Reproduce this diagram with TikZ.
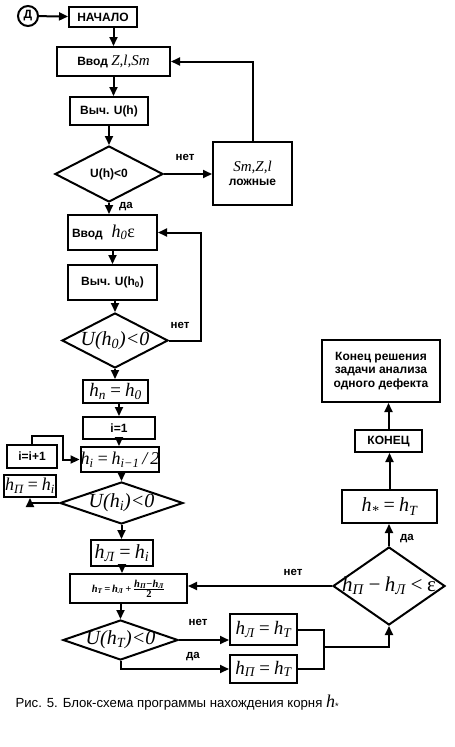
\documentclass[tikz,border=0pt]{standalone}
\usepackage{fontspec}
\setmainfont{Liberation Sans}
\newfontfamily\tms{Liberation Serif}
\usetikzlibrary{shapes.geometric,arrows.meta}
\newcommand\mx[2]{{\fontsize{#1}{#1}\tms\mdseries\itshape #2}}
\tikzset{
  blk/.style={draw,line width=2pt,inner sep=0pt,align=center,
    font=\fontsize{12}{13.5}\selectfont\bfseries},
  dia/.style={draw,diamond,line width=2pt,inner sep=0pt},
  arr/.style={line width=2pt,-{Triangle[length=9pt,width=8pt]}},
  lbl/.style={font=\fontsize{11.5}{12}\selectfont\bfseries},
}
\begin{document}
\begin{tikzpicture}[x=1pt,y=-1pt]
\path[fill=white](0,0)rectangle(455,747);
\useasboundingbox(0,0)rectangle(455,747);
\node[blk,circle,minimum size=20pt] (d) at (28,16) {Д};
\node[blk,minimum width=68pt,minimum height=20pt] (nach) at (103,17) {НАЧАЛО};
\node[blk,minimum width=113pt,minimum height=29pt] (vvodz) at (113.5,61.5)
  {Ввод \mx{15}{Z,l,Sm}};
\node[blk,minimum width=78pt,minimum height=28pt] (calc1) at (109,111) {Выч. U(h)};
\node[dia,minimum width=108pt,minimum height=56pt,
  label={[font=\fontsize{12}{13}\selectfont\bfseries]center:U(h)<0}] (dec1) at (109,174) {};
\node[blk,minimum width=79pt,minimum height=63pt] (false) at (252.5,173.5)
  {\mx{15}{Sm,Z,l}\\ложные};
\node[blk,minimum width=89pt,minimum height=35pt] (vvod0) at (112.5,232.5)
  {\makebox[81pt][l]{Ввод\hspace{9pt}\mx{18}{h\textsubscript{0}\upshape ε}}};
\node[blk,minimum width=89pt,minimum height=35pt] (calc2) at (112.5,282.5)
  {Выч. U(h\textsubscript{0})};
\node[dia,minimum width=106pt,minimum height=55pt,
  label={center:\mx{20}{U(h\textsubscript{0})<0}}] (dec2) at (115,340.5) {};
\node[blk,minimum width=65pt,minimum height=23pt] (hn) at (115.5,391.5)
  {\mx{19}{h\textsubscript{п}\,=\,h\textsubscript{0}}};
\node[blk,minimum width=72pt,minimum height=22pt] (i1) at (119,428) {i=1};
\node[blk,minimum width=74pt,minimum height=25pt] (half) at (120,459.5)
  {\mx{18}{h\textsubscript{i}\,=\,h\textsubscript{i−1}\,/\,2}};
\node[blk,minimum width=50pt,minimum height=23pt] (inc) at (32,456.5) {i=i+1};
\node[blk,minimum width=52pt,minimum height=22pt] (hPi) at (30,486)
  {\mx{18}{h\textsubscript{П}\,=\,h\textsubscript{i}}};
\node[dia,minimum width=123pt,minimum height=42pt,
  label={center:\mx{20}{U(h\textsubscript{i})<0}}] (dec3) at (121.5,503) {};
\node[blk,minimum width=62pt,minimum height=26pt] (hLi) at (122,553)
  {\mx{20}{h\textsubscript{Л}\,=\,h\textsubscript{i}}};
\node[blk,minimum width=117pt,minimum height=29pt] (hT) at (128.5,588.5)
  {\mx{10.5}{\bfseries h\textsubscript{T}\,=\,h\textsubscript{Л}\,+\,%
  $\frac{\mbox{h\textsubscript{П}−h\textsubscript{Л}}}{\mbox{\upshape 2}}$}};
\node[dia,minimum width=115pt,minimum height=40pt,
  label={center:\mx{20}{U(h\textsubscript{T})<0}}] (dec4) at (120.5,640) {};
\node[blk,minimum width=67pt,minimum height=31pt] (hLT) at (263.5,629.5)
  {\mx{19}{h\textsubscript{Л}\,=\,h\textsubscript{T}}};
\node[blk,minimum width=67pt,minimum height=28pt] (hPT) at (263.5,669)
  {\mx{19}{h\textsubscript{П}\,=\,h\textsubscript{T}}};
\node[dia,minimum width=112pt,minimum height=78pt,
  label={center:\mx{21}{h\textsubscript{П}\,−\,h\textsubscript{Л}\,<\,\upshape ε}}] (dec5) at (389,586) {};
\node[blk,minimum width=95pt,minimum height=33pt] (hstar) at (389.5,506.5)
  {\mx{20}{h\textsubscript{*}\,=\,h\textsubscript{T}}};
\node[blk,minimum width=67pt,minimum height=22pt] (end) at (388.5,441) {КОНЕЦ};
\node[blk,minimum width=118pt,minimum height=62pt] (final) at (381,371)
  {Конец решения\\задачи анализа\\одного дефекта};
\coordinate (incturn) at (63,436);
\coordinate (join) at (324,647);
\node[lbl] (n1) at (185,157) {нет};
\node[lbl] (y1) at (126,207) {да};
\node[lbl] (n2) at (180,325) {нет};
\node[lbl] (n3) at (293,572) {нет};
\node[lbl] (n4) at (198,622) {нет};
\node[lbl] (y4) at (193,657) {да};
\node[lbl] (y5) at (407,539) {да};
\node[anchor=base west,font=\fontsize{13.2}{14}\selectfont] (cap) at (12,707)
  {Рис. 5. Блок-схема программы нахождения корня \mx{18}{h}\textsubscript{*}};
\path[draw,arr](d)--(nach);
\path[draw,arr](vvodz.north|-nach.south)--(vvodz.north);
\path[draw,arr](vvodz.south)--(vvodz.south|-calc1.north);
\path[draw,arr](calc1)--(dec1);
\path[draw,arr](dec1.east)--(dec1.east-|false.west);
\path[draw,arr](false.north)|-(vvodz.east);
\path[draw,arr](dec1.south)--(dec1.south|-vvod0.north);
\path[draw,arr](vvod0)--(calc2);
\path[draw,arr](dec2.north|-calc2.south)--(dec2.north);
\path[draw,arr](dec2.east)--++(32,0)|-(vvod0.east);
\path[draw,arr](dec2.south)--(dec2.south|-hn.north);
\path[draw,arr](i1.north|-hn.south)--(i1.north);
\path[draw,arr](i1.south)--(i1.south|-half.north);
\path[draw,arr](dec3.north|-half.south)--(dec3.north);
\path[draw,arr](dec3.south)--(dec3.south|-hLi.north);
\path[draw,arr](hLi.south)--(hLi.south|-hT.north);
\path[draw,arr](dec4.north|-hT.south)--(dec4.north);
\path[draw,arr](dec3.west)-|(hPi.south);
\path[draw,arr](inc.north)|-(incturn)|-(half.west);
\path[draw,arr](dec4.east)--(dec4.east-|hLT.west);
\path[draw,arr](dec4.south)|-(hPT.west);
\path[draw,line width=2pt](hLT.east)-|(join);
\path[draw,line width=2pt](hPT.east)-|(join);
\path[draw,arr](join)-|(dec5.south);
\path[draw,arr](dec5.west)--(dec5.west-|hT.east);
\path[draw,arr](dec5.north)--(dec5.north|-hstar.south);
\path[draw,arr](hstar.north)--(hstar.north|-end.south);
\path[draw,arr](end.north)--(end.north|-final.south);
\end{tikzpicture}
\end{document}
